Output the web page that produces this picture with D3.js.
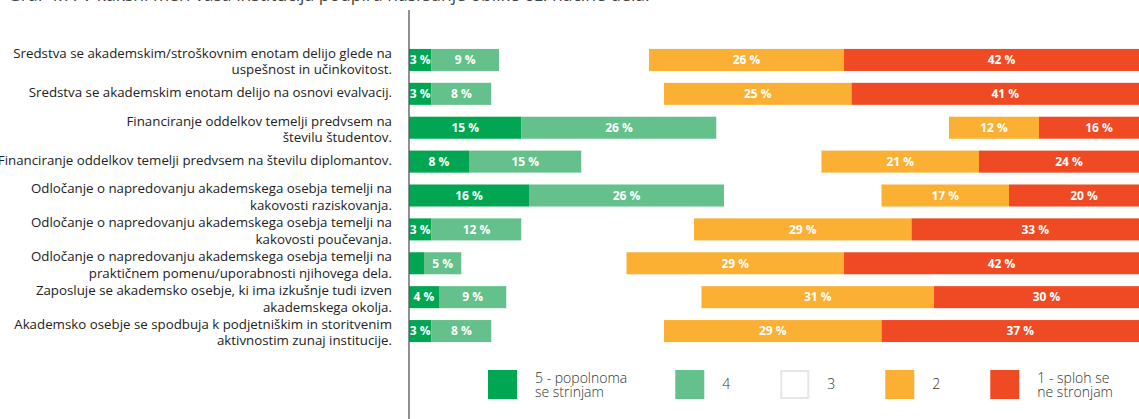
<!DOCTYPE html>
<html>
<head>
<meta charset="utf-8">
<script src="https://cdn.jsdelivr.net/npm/d3@7"></script>
<style>
  html, body { margin: 0; padding: 0; background: #fff; }
  svg { display: block; }
</style>
</head>
<body>
<svg id="chart" width="1139" height="419"></svg>
<script>
// Survey statements (each may wrap onto two lines)
const categories = [
  ["Sredstva se akademskim/stroškovnim enotam delijo glede na", "uspešnost in učinkovitost."],
  ["Sredstva se akademskim enotam delijo na osnovi evalvacij."],
  ["Financiranje oddelkov temelji predvsem na", "številu študentov."],
  ["Financiranje oddelkov temelji predvsem na številu diplomantov."],
  ["Odločanje o napredovanju akademskega osebja temelji na", "kakovosti raziskovanja."],
  ["Odločanje o napredovanju akademskega osebja temelji na", "kakovosti poučevanja."],
  ["Odločanje o napredovanju akademskega osebja  temelji na", "praktičnem pomenu/uporabnosti njihovega dela."],
  ["Zaposluje se akademsko osebje, ki ima izkušnje tudi izven", "akademskega okolja."],
  ["Akademsko osebje se spodbuja k podjetniškim in storitvenim", "aktivnostim zunaj institucije."]
];

// Share of answers (%) per rating, in the order of the statements above
const s5 = [3, 3, 15, 8, 16, 3, 2, 4, 3];
const s4 = [9, 8, 26, 15, 26, 12, 5, 9, 8];
const s3 = [20, 23, 31, 32, 21, 23, 22, 26, 23];
const s2 = [26, 25, 12, 21, 17, 29, 29, 31, 29];
const s1 = [42, 41, 16, 24, 20, 33, 42, 30, 37];

const seriesKeys = ["s5", "s4", "s3", "s2", "s1"];
const legendLabels = [["5 - popolnoma", "se strinjam"], ["4"], ["3"], ["2"], ["1 - sploh se", "ne stronjam"]];
const colors = ["#00a651", "#64c18b", "#ffffff", "#fbb034", "#f04a24"];

const title = "Graf 4.7: V kakšni meri vaša institucija podpira naslednje oblike oz. načine dela.";

const rows = categories.map((c, i) => ({
  idx: i, s5: s5[i], s4: s4[i], s3: s3[i], s2: s2[i], s1: s1[i]
}));

const svg = d3.select("#chart");
const W = 1139, H = 419;

const x = d3.scaleLinear().domain([0, 100]).range([409, 1159]);
const y = d3.scaleBand()
  .domain(rows.map(d => d.idx))
  .range([43, 348])
  .paddingInner(0.35)
  .paddingOuter(0.175);

const color = d3.scaleOrdinal().domain(seriesKeys).range(colors);

// Title (mostly above the visible area)
svg.append("text")
  .attr("x", 8).attr("y", 1)
  .attr("font-family", "Open Sans, sans-serif")
  .attr("font-size", 17.5)
  .attr("fill", "#444")
  .text(title);

const stacked = d3.stack().keys(seriesKeys)(rows);

const layers = svg.append("g").selectAll("g")
  .data(stacked)
  .join("g")
  .attr("fill", d => color(d.key));

layers.selectAll("rect")
  .data(d => d.map(p => ({ key: d.key, p })))
  .join("rect")
  .attr("x", d => x(d.p[0]))
  .attr("y", d => y(d.p.data.idx))
  .attr("width", d => x(d.p[1]) - x(d.p[0]))
  .attr("height", y.bandwidth());

// Value labels inside the coloured segments
layers.selectAll("text")
  .data(d => d.map(p => ({ key: d.key, p })).filter(e => e.key !== "s3" && (e.p[1] - e.p[0]) >= 3))
  .join("text")
  .attr("x", d => (x(d.p[0]) + x(d.p[1])) / 2)
  .attr("y", d => y(d.p.data.idx) + y.bandwidth() / 2)
  .attr("dy", "0.36em")
  .attr("text-anchor", "middle")
  .attr("font-family", "Open Sans, sans-serif")
  .attr("font-size", 12)
  .attr("font-weight", 700)
  .attr("fill", "#fff")
  .text(d => `${d.p[1] - d.p[0]} %`);

// Vertical baseline
svg.append("line")
  .attr("x1", x(0)).attr("x2", x(0))
  .attr("y1", 10).attr("y2", H)
  .attr("stroke", "#555")
  .attr("stroke-width", 1.3);

// Statement labels, right-aligned next to the baseline
const lineH = 16.5;
const labels = svg.append("g")
  .attr("font-family", "Open Sans, sans-serif")
  .attr("font-size", 13.3)
  .attr("fill", "#222")
  .attr("text-anchor", "end");

categories.forEach((lines, i) => {
  const cy = y(i) + y.bandwidth() / 2;
  const t = labels.append("text");
  const top = cy - (lines.length - 1) * lineH / 2 + (lines.length > 1 ? 1.5 : -1.5);
  lines.forEach((ln, j) => {
    t.append("tspan")
      .attr("x", 392)
      .attr("y", top + j * lineH)
      .attr("dy", "0.35em")
      .text(ln);
  });
});

// Legend
const legend = svg.append("g")
  .attr("font-family", "Open Sans, sans-serif")
  .attr("font-size", 14)
  .attr("font-weight", 300)
  .attr("fill", "#333");

let lx = 488;
const sw = 29, ly = 370, gap = 18;
seriesKeys.forEach((k, i) => {
  const g = legend.append("g").attr("transform", `translate(${lx},${ly})`);
  g.append("rect")
    .attr("x", k === "s3" ? 1 : 0).attr("y", k === "s3" ? 1 : 0)
    .attr("width", k === "s3" ? sw - 2 : sw)
    .attr("height", k === "s3" ? sw - 2 : sw)
    .attr("fill", color(k))
    .attr("stroke", k === "s3" ? "#e6e6e6" : "none")
    .attr("stroke-width", 2);
  const lines = legendLabels[i];
  const t = g.append("text");
  lines.forEach((ln, j) => {
    t.append("tspan")
      .attr("x", sw + gap)
      .attr("y", lines.length === 1 ? sw / 2 : (j === 0 ? 8 : 22.5))
      .attr("dy", "0.35em")
      .text(ln);
  });
  const w = t.node().getBBox().width;
  lx += sw + gap + w + (lines.length > 1 ? 48 : 50);
});
</script>
</body>
</html>
